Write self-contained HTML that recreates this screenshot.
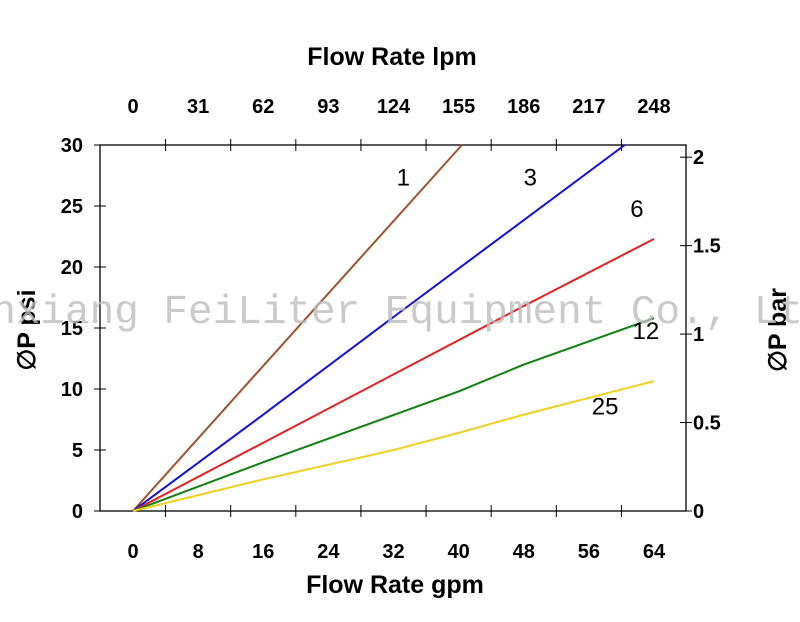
<!DOCTYPE html>
<html><head><meta charset="utf-8"><style>
html,body{margin:0;padding:0;background:#fff;}
svg{display:block;}
</style></head><body>
<svg id="chart" width="800" height="622" viewBox="0 0 800 622" xmlns="http://www.w3.org/2000/svg">
<g id="axes"></g>
<g id="series"></g>
<text x="-58" y="323" font-family="Liberation Mono, monospace" font-size="41" fill="#bdbdbd" fill-opacity="0.8">Xinxiang FeiLiter Equipment Co., Ltd</text>
</svg>
<script>
const gpmTicks=[0,8,16,24,32,40,48,56,64];
const lpmTicks=[0,31,62,93,124,155,186,217,248];
const psiTicks=[0,5,10,15,20,25,30];
const barTicks=[0,0.5,1,1.5,2];
const seriesNames=['1','3','6','12','25'];
const seriesColors=['#a0522d','#1010e0','#e82020','#108010','#f0d020'];
const s1=[[0,0],[16,11.9],[40.4,30]];
const s3=[[0,0],[16,7.9],[32,15.9],[60.4,30]];
const s6=[[0,0],[16,5.6],[32,11.2],[48,16.8],[64,22.3]];
const s12=[[0,0],[16,4],[40,9.8],[48,12],[64,15.8]];
const s25=[[0,0],[16,2.6],[32,5],[40,6.4],[48,7.9],[64,10.65]];
const seriesData=[s1,s3,s6,s12,s25];
const labelPos=[[33.2,26.7],[48.8,26.7],[61.9,24.1],[63,14.1],[58,7.9]];

const NS='http://www.w3.org/2000/svg';
const L=100,R=686,T=145,B=511;
const x=g=>133+(g/64)*(654-133);
const y=p=>511-(p/30)*(511-145);
const yb=b=>y(b*14.5);
const xl=l=>x(l/248*64);
function mk(tag,attrs,parent,txt){const e=document.createElementNS(NS,tag);for(const k in attrs)e.setAttribute(k,attrs[k]);if(txt!==undefined)e.textContent=txt;parent.appendChild(e);return e;}
const ax=document.getElementById('axes');
const F='Liberation Sans, Arial, sans-serif';
const frame=mk('rect',{x:L,y:T,width:R-L,height:B-T,fill:'none',stroke:'#000','stroke-width':1.3},ax);


for(let i=0;i<8;i++){const xv=x(4+8*i);
 const t1=mk('line',{x1:xv,x2:xv,y1:B-6,y2:B+6,stroke:'#000'},ax);
 
 
 const t2=mk('line',{x1:xv,x2:xv,y1:T-6,y2:T+6,stroke:'#000'},ax);
 
 }
gpmTicks.forEach(g=>{const t=mk('text',{x:x(g),y:558,'text-anchor':'middle','font-family':F,'font-size':20,'font-weight':'bold'},ax,String(g));
 
 });
lpmTicks.forEach(l=>{const t=mk('text',{x:xl(l),y:113,'text-anchor':'middle','font-family':F,'font-size':20,'font-weight':'bold'},ax,String(l));
 
 });
psiTicks.forEach(p=>{const t=mk('text',{x:83,y:y(p)+7,'text-anchor':'end','font-family':F,'font-size':20,'font-weight':'bold'},ax,String(p));
 
 
 const tk=mk('line',{x1:L-6,x2:L+6,y1:y(p),y2:y(p),stroke:'#000'},ax);
 
 });
barTicks.forEach(b=>{const t=mk('text',{x:693,y:yb(b)+7,'font-family':F,'font-size':20,'font-weight':'bold'},ax,String(b));
 
 
 const tk=mk('line',{x1:R-6,x2:R+6,y1:yb(b),y2:yb(b),stroke:'#000'},ax);
 
 });
const tt=mk('text',{x:392,y:65,'text-anchor':'middle','font-family':F,'font-size':25,'font-weight':'bold'},ax,'Flow Rate lpm');


const bt=mk('text',{x:395,y:593,'text-anchor':'middle','font-family':F,'font-size':25,'font-weight':'bold'},ax,'Flow Rate gpm');


const lt=mk('text',{x:0,y:0,transform:'translate(35,330) rotate(-90)','text-anchor':'middle','font-family':F,'font-size':25,'font-weight':'bold'},ax,'\u2205P psi');


const rt=mk('text',{x:0,y:0,transform:'translate(786,330) rotate(-90)','text-anchor':'middle','font-family':F,'font-size':25,'font-weight':'bold'},ax,'\u2205P bar');


const sg=document.getElementById('series');
seriesData.forEach((d,i)=>{
 const pts=d.map(p=>x(p[0]).toFixed(1)+','+y(p[1]).toFixed(1)).join(' ');
 const pl=mk('polyline',{points:pts,fill:'none',stroke:seriesColors[i],'stroke-width':2},sg);
 
 
 const lb=mk('text',{x:x(labelPos[i][0]),y:y(labelPos[i][1]),'text-anchor':'middle','font-family':F,'font-size':24},sg,seriesNames[i]);
 
 
});
</script>
</body></html>
